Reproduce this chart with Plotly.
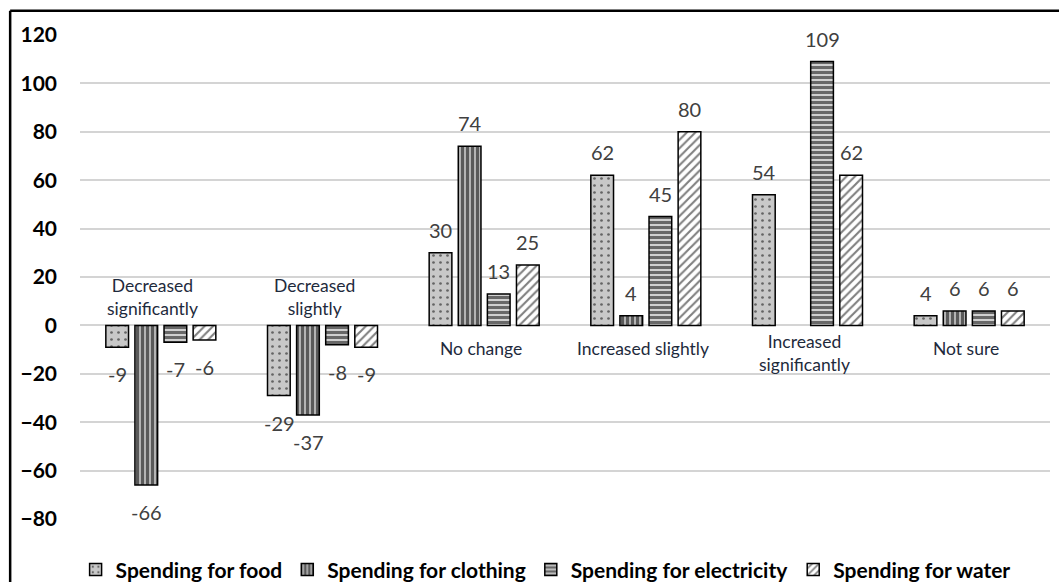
import plotly.graph_objects as go

categories = ["Decreased significantly", "Decreased slightly", "No change",
              "Increased slightly", "Increased significantly", "Not sure"]
cat_labels = ["Decreased<br>significantly", "Decreased<br>slightly", "No change",
              "Increased slightly", "Increased<br>significantly", "Not sure"]
series_names = ["Spending for food", "Spending for clothing",
                "Spending for electricity", "Spending for water"]
food = [-9, -29, 30, 62, 54, 4]
clothing = [-66, -37, 74, 4, None, 6]
electricity = [-7, -8, 13, 45, 109, 6]
water = [-6, -9, 25, 80, 62, 6]
y_ticks = [-80, -60, -40, -20, 0, 20, 40, 60, 80, 100, 120]

series = [food, clothing, electricity, water]
patterns = [
    dict(shape=".", bgcolor="#c8c8c8", fgcolor="black", size=7, solidity=0.12),
    dict(shape="|", bgcolor="#b4b4b4", fgcolor="black", size=5, solidity=0.6),
    dict(shape="-", bgcolor="#d0d0d0", fgcolor="black", size=5, solidity=0.6),
    dict(shape="/", bgcolor="white", fgcolor="black", size=6, solidity=0.35),
]

fig = go.Figure()
for name, vals, pat in zip(series_names, series, patterns):
    fig.add_trace(go.Bar(
        name=name, x=categories, y=vals,
        marker=dict(color=pat["bgcolor"], pattern=pat,
                    line=dict(color="black", width=1.5)),
    ))

# data labels
slot = 29
annotations = []
for i, vals in enumerate(series):
    for c, v in zip(categories, vals):
        if v is None:
            continue
        annotations.append(dict(
            x=c, y=v, xref="x", yref="y", text=str(v), showarrow=False,
            xshift=(i - 1.5) * slot,
            yshift=23 if v >= 0 else -27,
            font=dict(family="Lato", size=20, color="#404040"),
        ))
# category labels at the zero line
for c, lab in zip(categories, cat_labels):
    neg = c.startswith("Decreased")
    two = "<br>" in lab
    annotations.append(dict(
        x=c, y=0, xref="x", yref="y", text=lab, showarrow=False,
        yanchor="bottom" if neg else "top",
        yshift=4 if neg else (-4 if two else -11),
        xshift=-8 if neg else -3,
        font=dict(family="Lato", size=17.5, color="#1e2a3c"),
    ))

fig.update_layout(
    width=1059, height=582,
    margin=dict(l=80, r=9, t=35, b=63, autoexpand=False),
    paper_bgcolor="white", plot_bgcolor="white",
    barmode="group", bargap=0.28, bargroupgap=0.22,
    showlegend=True,
    legend=dict(orientation="h", x=0.48, xanchor="center", y=-0.105, yanchor="middle",
                font=dict(family="Lato", size=21, color="black", weight="bold"),
                itemwidth=30, traceorder="normal", tracegroupgap=0),
    annotations=annotations,
    shapes=[
        dict(type="line", xref="paper", yref="paper", x0=-0.072, x1=1.01,
             y0=1.05, y1=1.05, line=dict(color="black", width=2.5)),
        dict(type="line", xref="paper", yref="paper", x0=-0.072, x1=-0.072,
             y0=1.05, y1=-0.2, line=dict(color="black", width=2.5)),
    ],
)
fig.update_xaxes(showticklabels=False, showgrid=False, zeroline=False, showline=False)
fig.update_yaxes(range=[-80, 120], tickvals=y_ticks, showgrid=True,
                 gridcolor="#d4d4d4", gridwidth=1.5, zeroline=True,
                 zerolinecolor="#d4d4d4", zerolinewidth=1.5,
                 tickfont=dict(family="Lato", size=21, color="black", weight="bold"),
                 ticklabelstandoff=22, showline=False)

fig.write_html("out.html")
